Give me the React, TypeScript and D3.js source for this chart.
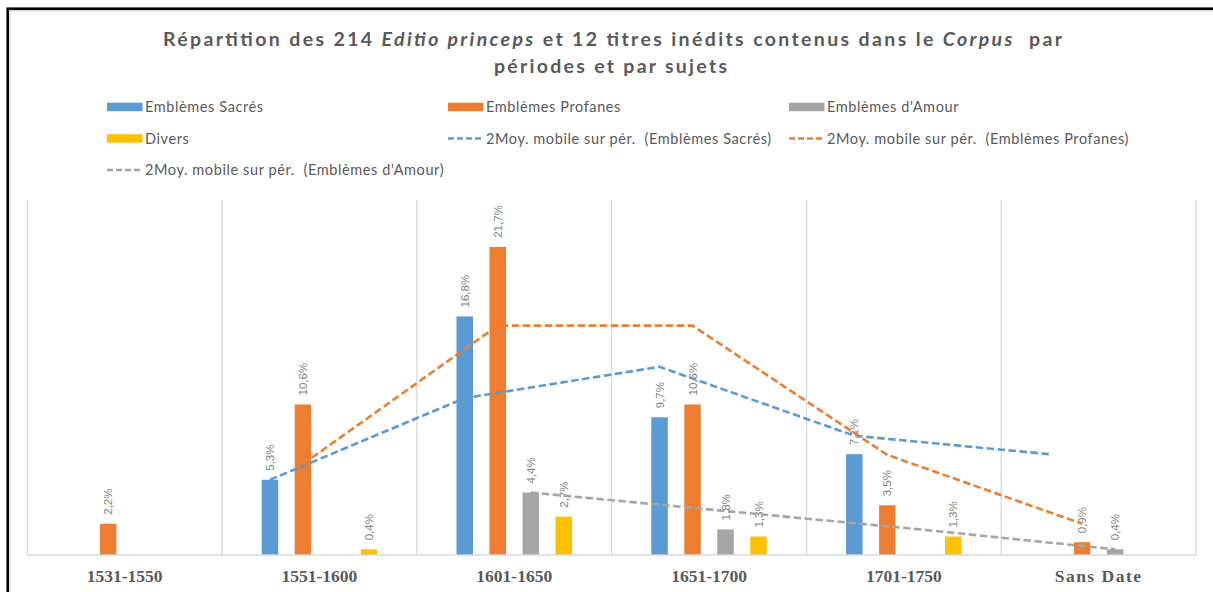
import React from 'react';
import * as d3 from 'd3';

const categories = ['1531-1550', '1551-1600', '1601-1650', '1651-1700', '1701-1750', 'Sans Date'];
const seriesNames = ['Emblèmes Sacrés', 'Emblèmes Profanes', "Emblèmes d'Amour", 'Divers'];
const sacres: (number | null)[] = [null, 5.3, 16.8, 9.7, 7.1, null];
const profanes: (number | null)[] = [2.2, 10.6, 21.7, 10.6, 3.5, 0.9];
const amour: (number | null)[] = [null, null, 4.4, 1.8, null, 0.4];
const divers: (number | null)[] = [null, 0.4, 2.7, 1.3, 1.3, null];
// 2-period moving averages as drawn (blank cells ignored)
const maSacres: (number | null)[] = [null, 5.3, 11.05, 13.25, 8.4, 7.1];
const maProfanes: (number | null)[] = [null, 6.4, 16.15, 16.15, 7.05, 2.2];
const maAmour: (number | null)[] = [null, null, 4.4, 3.1, 1.8, 0.4];
const yDomain = [0, 25];

const colors = ['#5B9BD5', '#ED7D31', '#A5A5A5', '#FFC000'];
const TXT = '#595959';

const W = 1213, H = 592;
const plot = { left: 27.3, right: 1196, top: 200, bottom: 555 };

export default function App() {
  const x = d3.scaleBand<string>().domain(categories).range([plot.left, plot.right]).paddingInner(0).paddingOuter(0);
  const inner = d3.scaleBand<string>().domain(seriesNames).range([-66, 66]).paddingInner(0.5).paddingOuter(0.25);
  const y = d3.scaleLinear().domain(yDomain).range([plot.bottom, plot.top]);
  const allSeries = [sacres, profanes, amour, divers];
  const maSeries = [maSacres, maProfanes, maAmour];

  const barCx = (ci: number, si: number) =>
    (x(categories[ci]) as number) + x.bandwidth() / 2 + (inner(seriesNames[si]) as number) + inner.bandwidth() / 2;

  const fmt = (v: number) => v.toFixed(1).replace('.', ',') + '%';

  const gridXs = d3.range(categories.length + 1).map(i => plot.left + i * x.step());

  const legendItems: { label: string; kind: 'rect' | 'line'; color: string; x: number; row: number }[] = [
    { label: seriesNames[0], kind: 'rect', color: colors[0], x: 107, row: 0 },
    { label: seriesNames[1], kind: 'rect', color: colors[1], x: 448, row: 0 },
    { label: seriesNames[2], kind: 'rect', color: colors[2], x: 789, row: 0 },
    { label: seriesNames[3], kind: 'rect', color: colors[3], x: 107, row: 1 },
    { label: '2Moy. mobile sur pér.  (Emblèmes Sacrés)', kind: 'line', color: colors[0], x: 448, row: 1 },
    { label: '2Moy. mobile sur pér.  (Emblèmes Profanes)', kind: 'line', color: colors[1], x: 789, row: 1 },
    { label: "2Moy. mobile sur pér.  (Emblèmes d'Amour)", kind: 'line', color: colors[2], x: 107, row: 2 },
  ];
  const rowY = [107, 138.5, 170];

  return (
    <svg width={W} height={H} style={{ position: 'absolute', left: 0, top: 0, background: '#fff' }}
      xmlns="http://www.w3.org/2000/svg">
      <rect x={0} y={0} width={W} height={H} fill="#fff" />
      {/* frame */}
      <rect x={9.8} y={10.8} width={W + 50} height={H + 50} fill="none" stroke="#D9D9D9" strokeWidth={1.5} />
      <rect x={7.7} y={8.7} width={W + 50} height={H + 50} fill="none" stroke="#000" strokeWidth={2.6} />

      {/* title */}
      <text x={163} y={46} fontFamily="Lato, 'Open Sans', sans-serif" fontWeight="bold" fontSize={19.5} fill={TXT}
        textLength={899} lengthAdjust="spacing" style={{ whiteSpace: 'pre' }}>
        Répartition des 214 <tspan fontStyle="italic">Editio princeps</tspan> et 12 titres inédits contenus dans le <tspan fontStyle="italic">Corpus</tspan>  par
      </text>
      <text x={494} y={73} fontFamily="Lato, 'Open Sans', sans-serif" fontWeight="bold" fontSize={19.5} fill={TXT}
        textLength={233} lengthAdjust="spacing">
        périodes et par sujets
      </text>

      {/* legend */}
      {legendItems.map((it, i) => (
        <g key={i}>
          {it.kind === 'rect' ? (
            <rect x={it.x} y={rowY[it.row] - 4.3} width={35.5} height={8.5} fill={it.color} />
          ) : (
            <line x1={it.x} x2={it.x + 35.5} y1={rowY[it.row]} y2={rowY[it.row]} stroke={it.color}
              strokeWidth={2.6} strokeDasharray="6,3" />
          )}
          <text x={it.x + 38} y={rowY[it.row]} dy="0.35em" fontFamily="Lato, sans-serif" fontSize={14.5} fill={TXT}
            letterSpacing={0.6} style={{ whiteSpace: 'pre' }}>{it.label}</text>
        </g>
      ))}

      {/* gridlines */}
      {gridXs.map((gx, i) => (
        <line key={i} x1={gx} x2={gx} y1={plot.top} y2={plot.bottom} stroke="#D9D9D9" strokeWidth={1.3} />
      ))}

      {/* bars */}
      {allSeries.map((vals, si) =>
        vals.map((v, ci) =>
          v == null ? null : (
            <rect key={`${si}-${ci}`} x={barCx(ci, si) - inner.bandwidth() / 2} y={y(v)}
              width={inner.bandwidth()} height={y(0) - y(v)} fill={colors[si]} />
          )
        )
      )}

      {/* axis line */}
      <line x1={plot.left} x2={plot.right} y1={plot.bottom} y2={plot.bottom} stroke="#D9D9D9" strokeWidth={1.5} />

      {/* data labels */}
      {allSeries.map((vals, si) =>
        vals.map((v, ci) => {
          if (v == null) return null;
          const cx = barCx(ci, si);
          const ty = y(v) - 9;
          return (
            <text key={`l${si}-${ci}`} transform={`translate(${cx + 4},${ty}) rotate(-90)`}
              fontFamily="'Liberation Sans', Arial, sans-serif" fontSize={11.5} fill="#7F7F7F">
              {fmt(v)}
            </text>
          );
        })
      )}

      {/* category labels */}
      {categories.map((c, ci) => (
        <text key={c} x={(x(c) as number) + x.bandwidth() / 2} y={582} textAnchor="middle"
          fontFamily="'Liberation Serif', 'Times New Roman', serif" fontWeight="bold" fontSize={17.5} fill={TXT}
          letterSpacing={c === 'Sans Date' ? 1.5 : 0}>
          {c}
        </text>
      ))}

      {/* moving average trendlines */}
      {maSeries.map((vals, si) => {
        const line = d3.line<number | null>()
          .defined(d => d != null)
          .x((_, i) => barCx(i, si))
          .y(d => y(d as number));
        return (
          <path key={`ma${si}`} d={line(vals) || ''} fill="none" stroke={colors[si]} strokeWidth={2.6}
            strokeDasharray="7.5,3.5" />
        );
      })}
    </svg>
  );
}
